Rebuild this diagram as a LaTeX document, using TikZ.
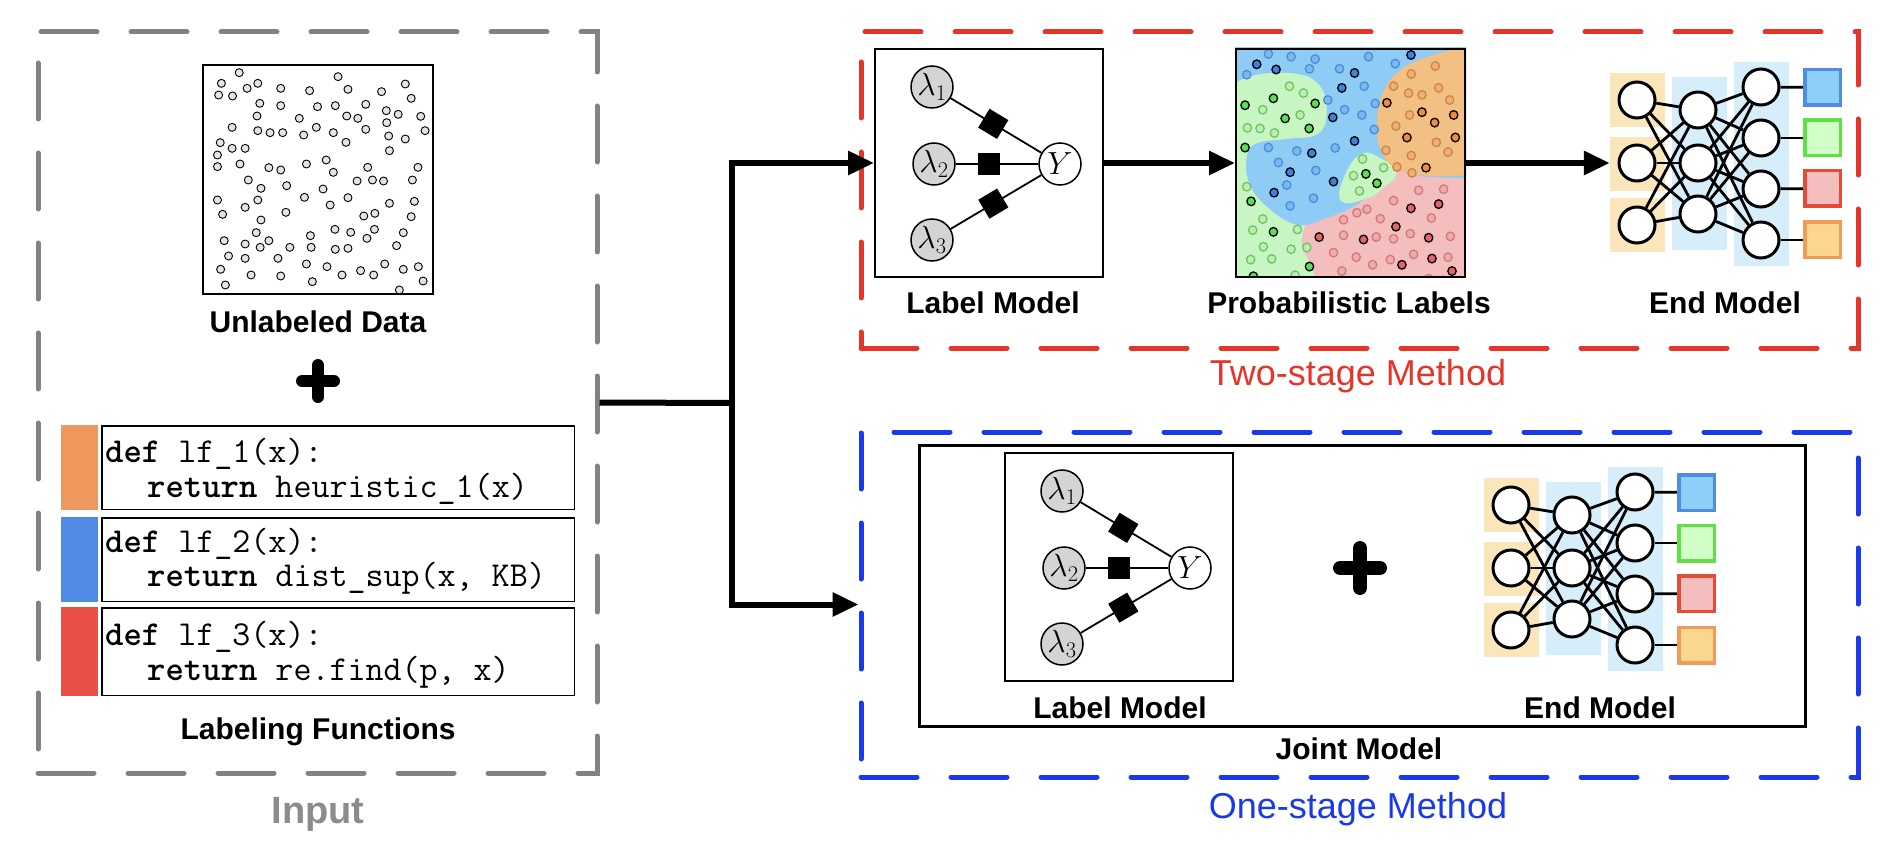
\RequirePackage{fix-cm}
\documentclass[tikz,border=0pt]{standalone}
\usepackage{fontspec}
\setmainfont{Liberation Sans}
\usetikzlibrary{arrows.meta}
\definecolor{inpgray}{RGB}{130,130,130}
\definecolor{inptext}{RGB}{140,140,140}
\definecolor{tsred}{RGB}{229,52,42}
\definecolor{osblue}{RGB}{26,58,234}
\definecolor{lamgray}{RGB}{212,212,212}
\definecolor{dotgray}{RGB}{228,228,228}
\definecolor{barorange}{RGB}{238,152,94}
\definecolor{barblue}{RGB}{79,139,228}
\definecolor{barred}{RGB}{232,80,72}
\definecolor{nnyellow}{RGB}{250,230,186}
\definecolor{nnblue}{RGB}{214,238,250}
\definecolor{sqbluef}{RGB}{140,208,250}
\definecolor{sqblued}{RGB}{80,140,225}
\definecolor{sqgreenf}{RGB}{210,255,200}
\definecolor{sqgreend}{RGB}{95,225,70}
\definecolor{sqredf}{RGB}{245,190,190}
\definecolor{sqredd}{RGB}{230,75,55}
\definecolor{sqorangef}{RGB}{250,215,140}
\definecolor{sqoranged}{RGB}{240,155,90}
\definecolor{regblue}{RGB}{142,203,245}
\definecolor{reggreen}{RGB}{200,246,194}
\definecolor{regorange}{RGB}{243,192,132}
\definecolor{regpink}{RGB}{243,190,189}
\pgfdeclarelayer{bg}
\pgfdeclarelayer{edges}
\pgfsetlayers{bg,edges,main}
\newcommand\lblmodel[3]{%
  \node[lmbox] (#3box) at (989+#1,163+#2) {};
  \node[lam] (#3l1) at (932+#1,87+#2) {$\lambda_1$};
  \node[lam] (#3l2) at (934+#1,164+#2) {$\lambda_2$};
  \node[lam] (#3l3) at (932+#1,240+#2) {$\lambda_3$};
  \node[lam,fill=white] (#3y) at (1060+#1,164+#2) {$Y$};
  \draw[fgedge] (#3l1) -- node[fgfactor,sloped,pos=.47] (#3f1) {} (#3y);
  \draw[fgedge] (#3l2) -- node[fgfactor,sloped,pos=.4] (#3f2) {} (#3y);
  \draw[fgedge] (#3l3) -- node[fgfactor,sloped,pos=.47] (#3f3) {} (#3y);
}
\newcommand\nnmodel[3]{%
  \begin{pgfonlayer}{bg}
    \node[nnband,fill=nnyellow,minimum height=54pt] (#3a1) at (1637.5+#1,100+#2) {};
    \node[nnband,fill=nnyellow,minimum height=54pt] (#3a2) at (1637.5+#1,164+#2) {};
    \node[nnband,fill=nnyellow,minimum height=54pt] (#3a3) at (1637.5+#1,225+#2) {};
    \node[nnband,fill=nnblue,minimum height=173pt] (#3b) at (1699.5+#1,163.5+#2) {};
    \node[nnband,fill=nnblue,minimum height=204pt] (#3c) at (1761+#1,164+#2) {};
  \end{pgfonlayer}
  \node[neuron] (#3i1) at (1637+#1,100+#2) {};
  \node[neuron] (#3i2) at (1637+#1,163+#2) {};
  \node[neuron] (#3i3) at (1637+#1,225+#2) {};
  \node[neuron] (#3h1) at (1698+#1,110+#2) {};
  \node[neuron] (#3h2) at (1698+#1,163+#2) {};
  \node[neuron] (#3h3) at (1698+#1,214+#2) {};
  \node[neuron] (#3o1) at (1761+#1,87+#2) {};
  \node[neuron] (#3o2) at (1761+#1,138+#2) {};
  \node[neuron] (#3o3) at (1761+#1,189+#2) {};
  \node[neuron] (#3o4) at (1761+#1,240+#2) {};
  \node[outsq,fill=sqbluef,draw=sqblued] (#3s1) at (1822.5+#1,87.5+#2) {};
  \node[outsq,fill=sqgreenf,draw=sqgreend] (#3s2) at (1822.5+#1,138+#2) {};
  \node[outsq,fill=sqredf,draw=sqredd] (#3s3) at (1822.5+#1,188.5+#2) {};
  \node[outsq,fill=sqorangef,draw=sqoranged] (#3s4) at (1822.5+#1,240+#2) {};
  \begin{pgfonlayer}{edges}
    \foreach \p in {1,2,3}{\foreach \q in {1,2,3}{\draw[nnedge] (#3i\p) -- (#3h\q);}}
    \foreach \p in {1,2,3}{\foreach \q in {1,2,3,4}{\draw[nnedge] (#3h\p) -- (#3o\q);}}
    \foreach \q in {1,2,3,4}{\draw[nnedge] (#3o\q) -- (#3s\q);}
  \end{pgfonlayer}
}
\begin{document}
\begin{tikzpicture}[x=1pt,y=-1pt,
  dashbox/.style={line width=5pt,dash pattern=on 56pt off 34pt,line cap=round,inner sep=0pt},
  lbl/.style={font=\fontsize{30}{34}\selectfont\bfseries,anchor=base,inner sep=0pt},
  method/.style={font=\fontsize{36}{40}\selectfont,anchor=base,inner sep=0pt},
  codeln/.style={font=\ttfamily\fontsize{35}{38}\selectfont,anchor=base west,inner sep=0pt},
  codebox/.style={draw,line width=1.5pt,minimum width=472.5pt,inner sep=0pt},
  lfbar/.style={minimum width=37pt,inner sep=0pt},
  flow/.style={line width=6pt},
  flowarrow/.style={line width=6pt,-{Triangle[length=26pt,width=23pt]}},
  lmbox/.style={draw,line width=2pt,minimum size=228pt,inner sep=0pt},
  lam/.style={circle,draw,fill=lamgray,line width=1.5pt,minimum size=42pt,inner sep=0pt,font=\fontsize{32}{34}\selectfont},
  fgfactor/.style={rectangle,fill=black,minimum size=22pt,inner sep=0pt},
  fgedge/.style={line width=1.8pt},
  nnband/.style={minimum width=55pt,inner sep=0pt},
  neuron/.style={circle,draw,fill=white,line width=3pt,minimum size=36pt,inner sep=0pt},
  outsq/.style={rectangle,line width=3.5pt,minimum size=35.5pt,inner sep=0pt},
  nnedge/.style={line width=2.8pt},
  plusbar/.style={line width=12pt,line cap=round},
  dotbl/.style={fill={rgb,255:red,120;green,185;blue,240},draw={rgb,255:red,70;green,140;blue,210},line width=1.2pt},
  dotbd/.style={fill={rgb,255:red,60;green,130;blue,225},draw=black,line width=1.3pt},
  dotgl/.style={fill={rgb,255:red,185;green,240;blue,175},draw={rgb,255:red,110;green,190;blue,100},line width=1.2pt},
  dotgd/.style={fill={rgb,255:red,90;green,225;blue,80},draw=black,line width=1.3pt},
  dotol/.style={fill={rgb,255:red,240;green,175;blue,115},draw={rgb,255:red,200;green,130;blue,70},line width=1.2pt},
  dotod/.style={fill={rgb,255:red,240;green,140;blue,60},draw=black,line width=1.3pt},
  dotpl/.style={fill={rgb,255:red,240;green,170;blue,170},draw={rgb,255:red,205;green,120;blue,120},line width=1.2pt},
  dotpd/.style={fill={rgb,255:red,230;green,100;blue,100},draw=black,line width=1.3pt}]
\useasboundingbox (0,0) rectangle (1898,850);
\begin{pgfonlayer}{bg}
  \fill[white] (0,0) rectangle (1898,850);
\end{pgfonlayer}

% ---------------- Input ----------------
\node[dashbox,draw=inpgray,minimum width=559pt,minimum height=741pt] (inputbox) at (317.5,402.5) {};
\node[draw,line width=2pt,minimum width=230pt,minimum height=229pt,inner sep=0pt] (data) at (318,179.5) {};
\foreach \a/\b in {605/218,560/250,553/285,588/288,625/265,652/250,710/265,783/272,855/230,880/268,965/275,1025/252,1040/295,
657/310,710/317,650/348,757/355,803/320,848/317,877/348,905/355,925/313,977/332,1007/343,1064/349,978/368,1075/392,
587/382,652/392,683/398,715/398,768/405,800/382,843/398,875/427,925/388,983/408,1025/417,985/452,
557/428,587/445,620/445,550/465,550/500,607/492,680/503,710/510,775/492,825/480,843/517,930/502,903/543,942/540,970/543,1057/502,1043/540,
628/540,660/565,725/557,817/567,550/600,620/622,652/600,563/643,770/592,835/615,880/593,985/610,1048/604,723/637,660/660,920/648,948/640,1040/650,
648/698,567/722,620/732,658/742,680/722,733/742,785/707,787/742,847/688,887/697,848/748,880/745,947/688,928/715,1020/698,1003/737,
578/768,620/775,703/775,775/792,827/800,865/825,912/812,945/825,973/792,1020/808,1058/800,558/808,635/825,710/828,790/845,1070/843,1010/870,570/855}
  \draw[line width=0.9pt,fill=dotgray] (\a*0.3954,\b/3) circle (4pt);
\node[lbl] (datalbl) at (318,333) {Unlabeled Data};
\draw[plusbar] (302,381) -- (334,381);
\draw[plusbar] (318,365) -- (318,397);

\node[lfbar,fill=barorange,minimum height=85pt] (bar1) at (79.5,467.5) {};
\node[codebox,minimum height=83.5pt] (code1) at (338,467.5) {};
\node[codeln] (c1a) at (105,462) {\textbf{def} lf\_1(x):};
\node[codeln] (c1b) at (147,497) {\textbf{return} heuristic\_1(x)};
\node[lfbar,fill=barblue,minimum height=85pt] (bar2) at (79.5,559.5) {};
\node[codebox,minimum height=83.5pt] (code2) at (338,559.5) {};
\node[codeln] (c2a) at (105,552) {\textbf{def} lf\_2(x):};
\node[codeln] (c2b) at (147,586) {\textbf{return} dist\_sup(x, KB)};
\node[lfbar,fill=barred,minimum height=89pt] (bar3) at (79.5,651.5) {};
\node[codebox,minimum height=87.5pt] (code3) at (338,651.5) {};
\node[codeln] (c3a) at (105,645) {\textbf{def} lf\_3(x):};
\node[codeln] (c3b) at (147,680) {\textbf{return} re.find(p, x)};
\node[lbl] (lflbl) at (318,739) {Labeling Functions};
\node[lbl,font=\fontsize{38}{42}\selectfont\bfseries,text=inptext] (inplbl) at (318,823) {Input};

% ---------------- Two-stage ----------------
\node[dashbox,draw=tsred,minimum width=997pt,minimum height=316pt] (twobox) at (1359.5,190) {};
\node[method,text=tsred] (twolbl) at (1358,385) {Two-stage Method};
\lblmodel{0}{0}{lmA}
\node[lbl] (lmAlbl) at (993,314) {Label Model};

\begin{scope}
  \clip (1235,48) rectangle (1466,278);
  \begin{scope}[shift={(1220,39.33)},xscale=0.3338,yscale=0.3469]
    \fill[regpink] (0,0) rectangle (800,800);
    \fill[reggreen] (-50,110) -- plot[smooth,tension=0.7] coordinates {(45,125) (120,100) (240,100) (305,135) (322,220) (320,400) (262,520) (245,590) (272,650) (300,730)} -- (-50,730) -- cycle;
    \fill[regblue] (-50,-50) -- (800,-50) -- (800,400) -- plot[smooth,tension=0.7] coordinates {(737,400) (600,395) (520,385) (420,470) (320,515) (235,535) (150,490) (90,420) (80,340) (110,300) (200,287) (295,272) (320,205) (300,135) (235,100) (120,100) (45,125)} -- (-50,125) -- cycle;
    \fill[reggreen] plot[smooth cycle,tension=0.8] coordinates {(362,465) (375,390) (425,330) (485,345) (530,382) (485,432) (430,462)};
    \fill[regorange] (730,-50) -- plot[smooth,tension=0.7] coordinates {(725,25) (640,45) (545,85) (490,150) (470,240) (482,320) (525,372) (600,392) (740,392)} -- (800,392) -- (800,-50) -- cycle;
    \foreach \a/\b/\c in {145/42/dotbl,80/102/dotbl,213/50/dotbl,285/57/dotbl,268/85/dotbl,358/85/dotbl,445/50/dotbl,525/70/dotbl,432/135/dotbl,323/175/dotbl,373/203/dotbl,425/218/dotbl,465/185/dotbl,462/260/dotbl,345/313/dotbl,145/312/dotbl,230/322/dotbl,175/355/dotbl,287/378/dotbl,200/420/dotbl,210/480/dotbl,280/458/dotbl,
      110/72/dotbd,168/87/dotbd,403/97/dotbd,572/45/dotbd,365/140/dotbd,338/225/dotbd,403/293/dotbd,275/328/dotbd,210/383/dotbd,162/442/dotbd,340/410/dotbd,
      208/135/dotgl,250/155/dotgl,128/203/dotgl,240/218/dotgl,82/255/dotgl,120/257/dotgl,163/270/dotgl,80/425/dotgl,128/518/dotgl,98/550/dotgl,232/548/dotgl,130/598/dotgl,213/605/dotgl,260/600/dotgl,92/635/dotgl,155/633/dotgl,225/680/dotgl,427/345/dotgl,400/393/dotgl,418/437/dotgl,490/370/dotgl,
      160/170/dotgd,75/190/dotgd,195/228/dotgd,285/185/dotgd,267/257/dotgd,75/312/dotgd,93/467/dotgd,160/555/dotgd,268/655/dotgd,100/683/dotgd,437/388/dotgd,470/415/dotgd,
      645/77/dotol,573/100/dotol,520/135/dotol,565/155/dotol,605/160/dotol,655/140/dotol,688/175/dotol,568/218/dotol,527/250/dotol,648/297/dotol,497/320/dotol,573/335/dotol,683/325/dotol,530/368/dotol,575/385/dotol,
      500/183/dotod,605/210/dotod,643/240/dotod,700/218/dotod,560/283/dotod,705/283/dotod,617/370/dotod,
      595/435/dotpl,670/432/dotpl,520/465/dotpl,633/515/dotpl,370/520/dotpl,410/500/dotpl,440/490/dotpl,480/517/dotpl,370/565/dotpl,468/570/dotpl,520/575/dotpl,570/560/dotpl,690/568/dotpl,340/615/dotpl,408/628/dotpl,457/650/dotpl,510/635/dotpl,580/620/dotpl,683/628/dotpl,365/668/dotpl,625/690/dotpl,
      572/487/dotpd,655/475/dotpd,527/540/dotpd,430/577/dotpd,625/572/dotpd,297/570/dotpd,545/650/dotpd,635/632/dotpd,695/668/dotpd}
      \draw[\c] (\a,\b) circle (12.5);
  \end{scope}
\end{scope}
\node[draw,line width=2pt,minimum width=229pt,minimum height=228pt,inner sep=0pt] (prob) at (1350.5,163) {};
\node[lbl] (problbl) at (1349,314) {Probabilistic Labels};
\nnmodel{0}{0}{emA}
\node[lbl] (emAlbl) at (1725,314) {End Model};

% ---------------- One-stage ----------------
\node[dashbox,draw=osblue,minimum width=997pt,minimum height=345pt] (onebox) at (1359.5,604.5) {};
\node[method,text=osblue] (onelbl) at (1358,818) {One-stage Method};
\node[draw,line width=3pt,minimum width=886pt,minimum height=281pt,inner sep=0pt] (joint) at (1362.5,586) {};
\node[lbl] (jointlbl) at (1359,759) {Joint Model};
\lblmodel{130}{404}{lmB}
\node[lbl] (lmBlbl) at (1120,718) {Label Model};
\draw[plusbar,line width=14pt] (1340,568) -- (1380,568);
\draw[plusbar,line width=14pt] (1360,548) -- (1360,588);
\nnmodel{-126}{405}{emB}
\node[lbl] (emBlbl) at (1600,718) {End Model};

% ---------------- Connectors ----------------
\coordinate (split) at (732,403);
\draw[flow] (inputbox.east) -- (split);
\draw[flowarrow] (split) |- (lmAbox.west);
\draw[flowarrow] (split) |- (onebox.west);
\draw[flowarrow] (lmAbox.east) -- (prob.west);
\draw[flowarrow] (prob.east) -- (prob.east -| emAa2.west);
\end{tikzpicture}
\end{document}
